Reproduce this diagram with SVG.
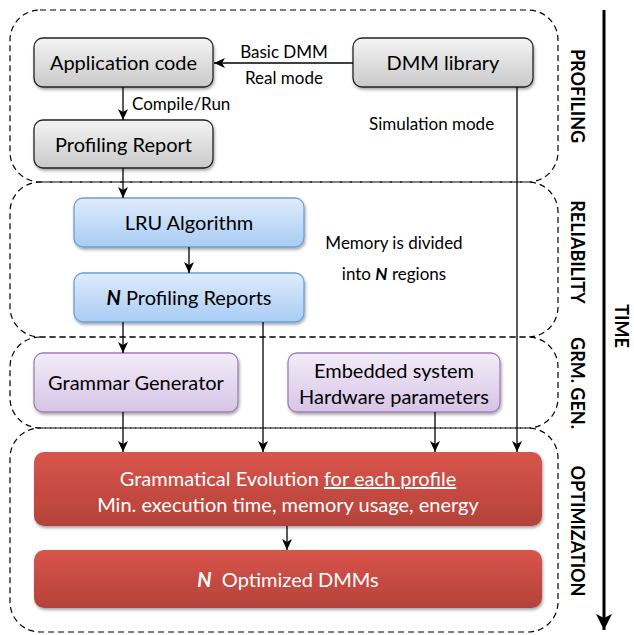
<svg xmlns="http://www.w3.org/2000/svg" width="634" height="635" viewBox="0 0 634 635">
<style>
text{font-family:Lato,"Liberation Sans",sans-serif;fill:#000}
.region{fill:none;stroke:#000;stroke-width:1.2;stroke-dasharray:6,4}
.gray{fill:url(#gGray);stroke:#222;stroke-width:1.3}
.blue{fill:url(#gBlue);stroke:#6d9fd6;stroke-width:1.3}
.purp{fill:url(#gPurp);stroke:#9d80b5;stroke-width:1.3}
.red{fill:url(#gRed);stroke:none}
.nt{font-size:20px;text-anchor:middle}
.wt{font-size:20px;text-anchor:middle;fill:#fff}
.lbl{font-size:17px}
.side{font-size:18px;font-weight:bold;text-anchor:middle}
.conn line,.conn path{stroke:#000;stroke-width:1.3;fill:none}
</style>
<defs>
<linearGradient id="gGray" x1="0" y1="0" x2="0" y2="1"><stop offset="0" stop-color="#f4f4f4"/><stop offset="1" stop-color="#c9c9c9"/></linearGradient>
<linearGradient id="gBlue" x1="0" y1="0" x2="0" y2="1"><stop offset="0" stop-color="#dfecfc"/><stop offset="1" stop-color="#a8ccf4"/></linearGradient>
<linearGradient id="gPurp" x1="0" y1="0" x2="0" y2="1"><stop offset="0" stop-color="#f3ecf8"/><stop offset="1" stop-color="#d6c4e6"/></linearGradient>
<linearGradient id="gRed" x1="0" y1="0" x2="0" y2="1"><stop offset="0" stop-color="#d9554b"/><stop offset="1" stop-color="#b3423a"/></linearGradient>
<filter id="sh" x="-5%" y="-10%" width="110%" height="130%"><feDropShadow dx="1" dy="2" stdDeviation="1.5" flood-color="#000" flood-opacity="0.35"/></filter>
<marker id="arr" markerWidth="12" markerHeight="10" refX="11" refY="5" orient="auto" markerUnits="userSpaceOnUse"><path d="M0,0 L11,5 L0,10 L3,5 Z" fill="#000"/></marker>
<marker id="arrBig" markerWidth="18" markerHeight="16" refX="16" refY="8" orient="auto" markerUnits="userSpaceOnUse"><path d="M0,0 L16,8 L0,16 L4,8 Z" fill="#000"/></marker>
</defs>

<g id="regions">
<rect class="region" x="10" y="10" width="548" height="172" rx="30"/>
<rect class="region" x="10" y="182" width="548" height="155" rx="30"/>
<rect class="region" x="10" y="337" width="548" height="91" rx="30"/>
<rect class="region" x="10" y="428" width="548" height="204" rx="30"/>
</g>

<g id="side-labels">
<text class="side" transform="translate(571,96) rotate(90)">PROFILING</text>
<text class="side" transform="translate(571,252) rotate(90)">RELIABILITY</text>
<text class="side" transform="translate(571,383) rotate(90)">GRM. GEN.</text>
<text class="side" transform="translate(571,531) rotate(90)">OPTIMIZATION</text>
<text class="side" transform="translate(615,326) rotate(90)">TIME</text>
</g>

<g id="time-arrow">
<line x1="604" y1="10" x2="604" y2="630" stroke="#000" stroke-width="3" marker-end="url(#arrBig)"/>
</g>

<g id="app-code"><rect class="gray" x="34" y="38" width="179" height="49" rx="9" filter="url(#sh)"/><text class="nt" x="123.5" y="70">Application code</text></g>
<g id="profiling-report"><rect class="gray" x="34" y="120" width="179" height="48" rx="9" filter="url(#sh)"/><text class="nt" x="123.5" y="152">Profiling Report</text></g>
<g id="dmm-library"><rect class="gray" x="353" y="38" width="180" height="49" rx="9" filter="url(#sh)"/><text class="nt" x="443" y="70">DMM library</text></g>
<g id="lru"><rect class="blue" x="74" y="198" width="230" height="49" rx="9" filter="url(#sh)"/><text class="nt" x="189" y="230">LRU Algorithm</text></g>
<g id="n-profiling"><rect class="blue" x="74" y="273" width="230" height="49" rx="9" filter="url(#sh)"/><text class="nt" x="189" y="305"><tspan font-weight="bold" font-style="italic">N</tspan> Profiling Reports</text></g>
<g id="grammar-gen"><rect class="purp" x="34" y="353" width="204" height="59" rx="9" filter="url(#sh)"/><text class="nt" x="136" y="390">Grammar Generator</text></g>
<g id="embedded"><rect class="purp" x="288" y="353" width="212" height="59" rx="9" filter="url(#sh)"/><text class="nt" x="394" y="378">Embedded system</text><text class="nt" x="394" y="404">Hardware parameters</text></g>
<g id="ge"><rect class="red" x="34" y="452" width="508" height="74" rx="10" filter="url(#sh)"/><text class="wt" x="288" y="486">Grammatical Evolution <tspan text-decoration="underline">for each profile</tspan></text><text class="wt" x="288" y="512">Min. execution time, memory usage, energy</text></g>
<g id="optimized"><rect class="red" x="34" y="550" width="508" height="58" rx="10" filter="url(#sh)"/><text class="wt" x="288" y="587"><tspan font-weight="bold" font-style="italic">N</tspan>&#160; Optimized DMMs</text></g>

<g id="annotations">
<text class="lbl" x="369" y="130">Simulation mode</text>
<text class="lbl" x="394" y="249" text-anchor="middle">Memory is divided</text>
<text class="lbl" x="394" y="280" text-anchor="middle">into <tspan font-weight="bold" font-style="italic">N</tspan> regions</text>
</g>

<g class="conn" id="connectors">
<line x1="353" y1="63" x2="214" y2="63" marker-end="url(#arr)"/>
<text class="lbl" x="284" y="58" text-anchor="middle">Basic DMM</text>
<text class="lbl" x="284" y="84" text-anchor="middle">Real mode</text>
<line x1="123" y1="87" x2="123" y2="120" marker-end="url(#arr)"/>
<text class="lbl" x="132" y="110">Compile/Run</text>
<line x1="123" y1="168" x2="123" y2="198" marker-end="url(#arr)"/>
<line x1="189" y1="247" x2="189" y2="273" marker-end="url(#arr)"/>
<line x1="123" y1="322" x2="123" y2="353" marker-end="url(#arr)"/>
<line x1="263" y1="322" x2="263" y2="452" marker-end="url(#arr)"/>
<line x1="123" y1="412" x2="123" y2="452" marker-end="url(#arr)"/>
<line x1="435" y1="412" x2="435" y2="452" marker-end="url(#arr)"/>
<line x1="517" y1="87" x2="517" y2="452" marker-end="url(#arr)"/>
<line x1="287" y1="526" x2="287" y2="550" marker-end="url(#arr)"/>
</g>
</svg>
